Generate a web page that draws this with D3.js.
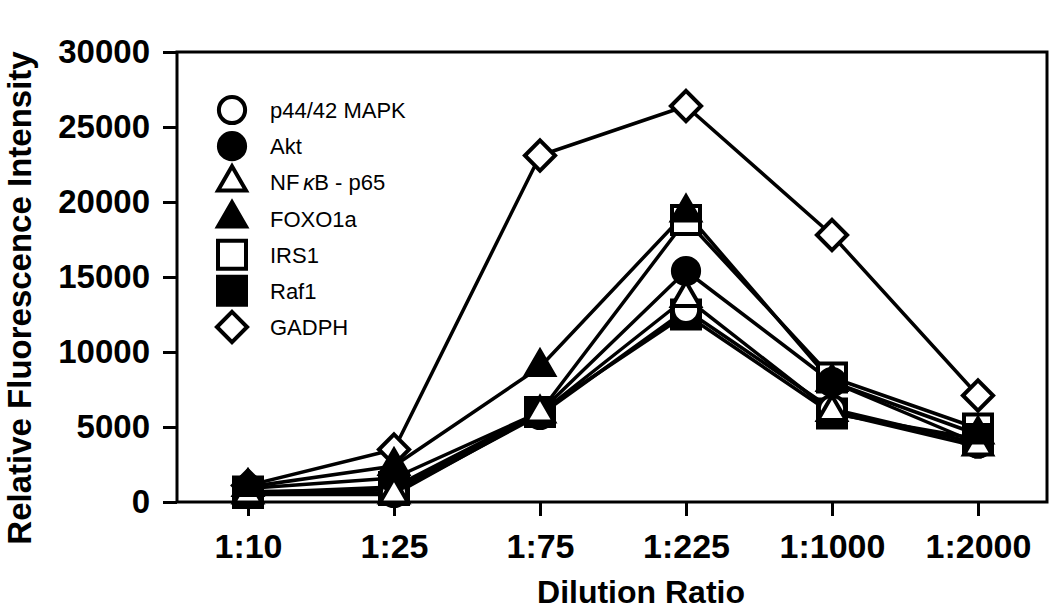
<!DOCTYPE html>
<html>
<head>
<meta charset="utf-8">
<script src="https://cdn.jsdelivr.net/npm/d3@7"></script>
<style>
  body { margin: 0; background: #fff; }
  svg { display: block; }
</style>
</head>
<body>
<svg id="chart" width="1050" height="611"></svg>
<script>
// dilution categories and tick values
const dilutions = ["1:10", "1:25", "1:75", "1:225", "1:1000", "1:2000"]
const yTicks = [0, 5000, 10000, 15000, 20000, 25000, 30000]

// values
const p44 = [600, 600, 5800, 12800, 6200, 3900]
const akt = [900, 1600, 6000, 15400, 8000, 3900]
const nfkb = [500, 500, 5900, 13600, 6000, 3700]
const foxo = [1000, 2400, 9000, 19300, 8000, 4500]
const irs1 = [600, 1000, 6000, 18800, 8300, 4900]
const raf1 = [700, 800, 6000, 12500, 5900, 4200]
const gadph = [1100, 3500, 23100, 26400, 17800, 7100]

const seriesNames = ["p44/42 MAPK", "Akt", "NF\u03baB - p65", "FOXO1a", "IRS1", "Raf1", "GADPH"]
const seriesValues = [p44, akt, nfkb, foxo, irs1, raf1, gadph]
const seriesShapes = ["circle", "circle", "triangle", "triangle", "square", "square", "diamond"]
const seriesFilled = [false, true, false, true, false, true, false]
// order the markers are stacked in, bottom first
const stackOrder = ["GADPH", "IRS1", "Raf1", "p44/42 MAPK", "Akt", "NF\u03baB - p65", "FOXO1a"]

const series = seriesNames.map((name, i) => ({
    name: name,
    values: seriesValues[i],
    shape: seriesShapes[i],
    filled: seriesFilled[i]
}))

const svg = d3.select("#chart")
const plotLeft = 177, plotRight = 1047, plotTop = 52, plotBottom = 502

const x = d3.scalePoint().domain(dilutions).range([248, 978])
const y = d3.scaleLinear().domain([0, 30000]).range([plotBottom, plotTop])

const symbolFor = {
    circle: d3.symbol().type(d3.symbolCircle).size(540),
    triangle: d3.symbol().type(d3.symbolTriangle).size(340),
    square: d3.symbol().type(d3.symbolSquare).size(784),
    diamond: d3.symbol().type(d3.symbolDiamond2).size(580)
}

// frame
svg.append("rect")
    .attr("x", plotLeft).attr("y", plotTop)
    .attr("width", plotRight - plotLeft).attr("height", plotBottom - plotTop)
    .attr("fill", "none")
    .attr("stroke", "#000")
    .attr("stroke-width", 3)

// y axis
const yAxis = svg.append("g")
    .attr("transform", `translate(${plotLeft},0)`)
    .call(d3.axisLeft(y).tickValues(yTicks).tickSize(14).tickPadding(13).tickFormat(d3.format("d")))
yAxis.select(".domain").remove()
yAxis.selectAll(".tick line").attr("stroke-width", 3)
yAxis.selectAll(".tick text")
    .attr("font-family", "Liberation Sans, Arial, sans-serif")
    .attr("font-weight", "bold")
    .attr("font-size", 33)
    .attr("fill", "#000")

// x axis
const xAxis = svg.append("g")
    .attr("transform", `translate(0,${plotBottom})`)
    .call(d3.axisBottom(x).tickSize(14).tickPadding(18))
xAxis.select(".domain").remove()
xAxis.selectAll(".tick line").attr("stroke-width", 3)
xAxis.selectAll(".tick text")
    .attr("font-family", "Liberation Sans, Arial, sans-serif")
    .attr("font-weight", "bold")
    .attr("font-size", 34)
    .attr("fill", "#000")

// axis titles
svg.append("text")
    .attr("transform", "translate(31,298) rotate(-90)")
    .attr("text-anchor", "middle")
    .attr("font-family", "Liberation Sans, Arial, sans-serif")
    .attr("font-weight", "bold")
    .attr("font-size", 33)
    .text("Relative Fluorescence Intensity")

svg.append("text")
    .attr("x", 641).attr("y", 603)
    .attr("text-anchor", "middle")
    .attr("font-family", "Liberation Sans, Arial, sans-serif")
    .attr("font-weight", "bold")
    .attr("font-size", 32)
    .text("Dilution Ratio")

// lines
const line = d3.line()
    .x((d, i) => x(dilutions[i]))
    .y(d => y(d))

svg.append("g").selectAll("path")
    .data(series)
    .enter().append("path")
    .attr("d", d => line(d.values))
    .attr("fill", "none")
    .attr("stroke", "#000")
    .attr("stroke-width", 3.5)
    .attr("stroke-linejoin", "round")

// markers
stackOrder.forEach(name => {
    const s = series.find(d => d.name === name)
    svg.append("g").selectAll("path")
        .data(s.values)
        .enter().append("path")
        .attr("transform", (d, i) => `translate(${x(dilutions[i])},${y(d)})`)
        .attr("d", symbolFor[s.shape]())
        .attr("fill", s.filled ? "#000" : "#fff")
        .attr("stroke", "#000")
        .attr("stroke-width", 4)
})

// legend
const legend = svg.append("g")
const rowY = d3.scalePoint().domain(seriesNames).range([110, 327])

series.forEach(s => {
    const g = legend.append("g").attr("transform", `translate(232,${rowY(s.name)})`)
    g.append("path")
        .attr("d", symbolFor[s.shape]())
        .attr("fill", s.filled ? "#000" : "#fff")
        .attr("stroke", "#000")
        .attr("stroke-width", 4)
    const t = g.append("text")
        .attr("x", 38).attr("y", 8)
        .attr("font-family", "Liberation Sans, Arial, sans-serif")
        .attr("font-size", 22)
    if (s.name.indexOf("\u03ba") >= 0) {
        t.append("tspan").text("NF")
        t.append("tspan").attr("dx", 4).attr("font-style", "italic").text("\u03ba")
        t.append("tspan").text("B - p65")
    } else {
        t.text(s.name)
    }
})
</script>
</body>
</html>
